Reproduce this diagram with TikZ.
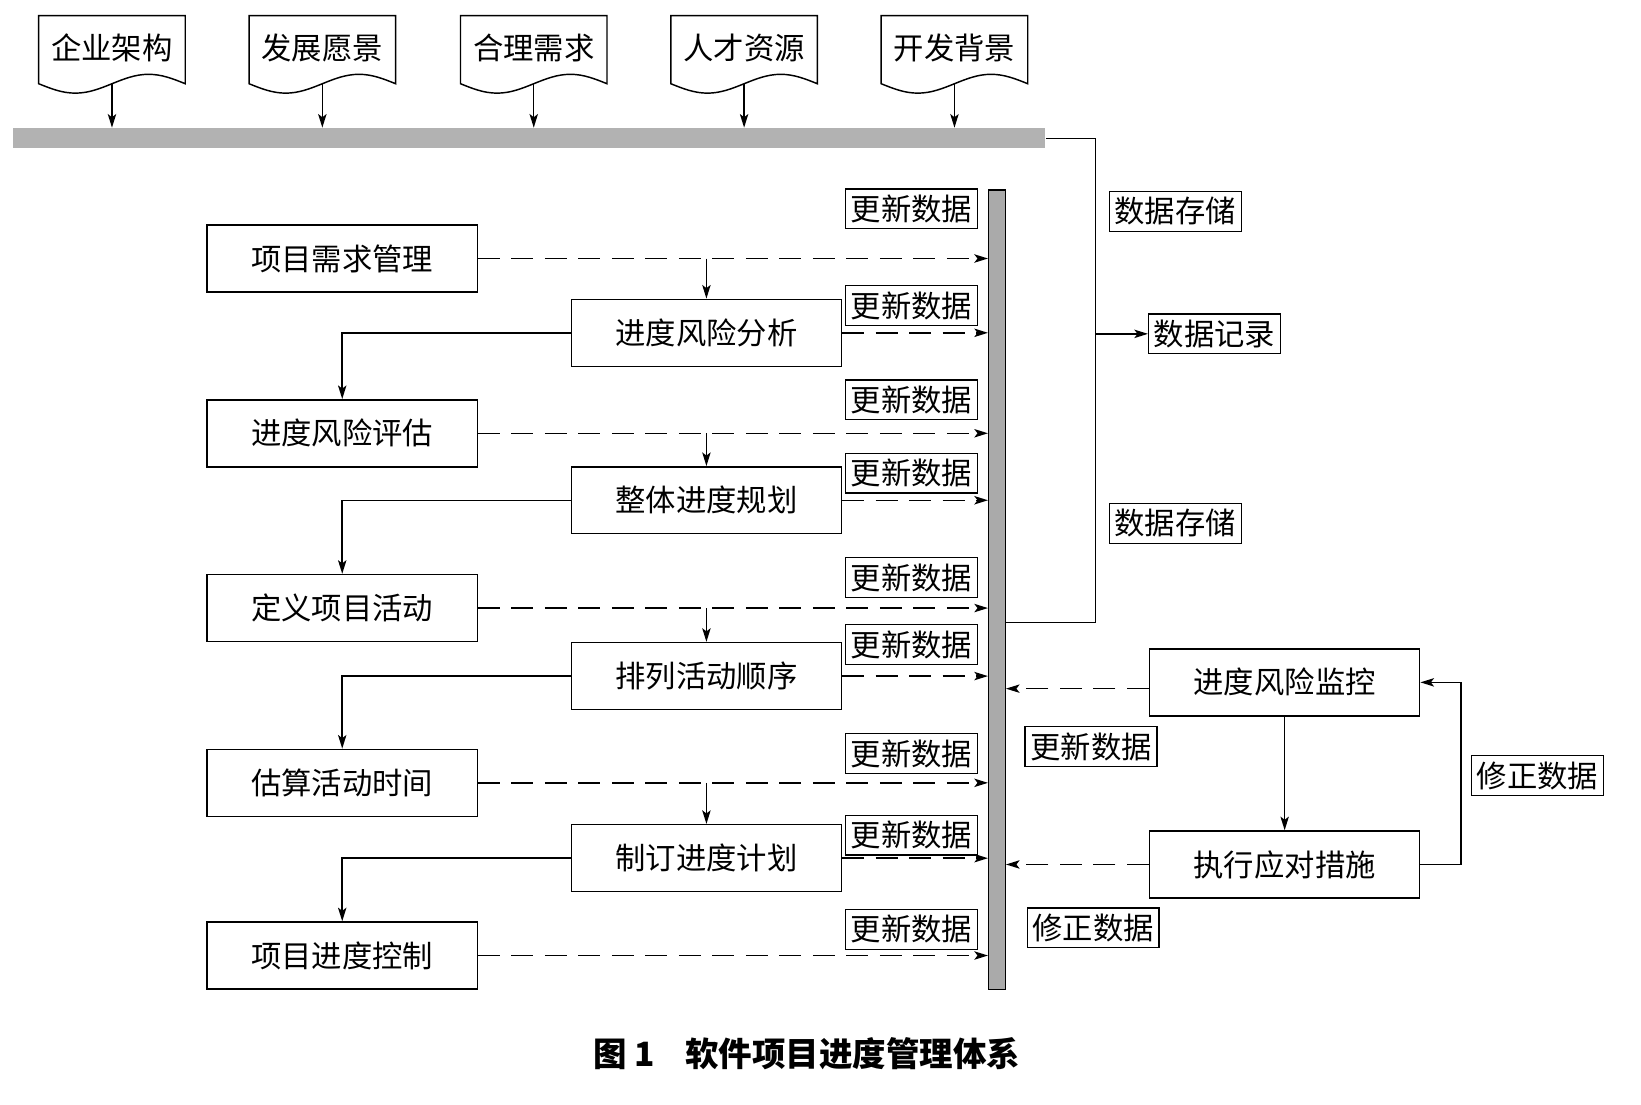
\documentclass[tikz,border=0pt]{standalone}
\usepackage{fontspec}
\newfontfamily\cjk{Noto Sans CJK SC}
\usetikzlibrary{arrows.meta}
\definecolor{barg}{RGB}{178,178,178}
\definecolor{vbarg}{RGB}{170,170,170}
\begin{document}
\begin{tikzpicture}[x=0.5pt,y=-0.5pt,
  line width=0.7pt,
  txt/.style={font=\cjk\fontsize{14.5pt}{16pt}\selectfont},
  box/.style={txt, draw, minimum width=129pt, minimum height=32pt, inner sep=0pt},
  lbl/.style={txt, draw, line width=0.6pt, minimum width=63pt, minimum height=19pt, inner sep=0pt},
  arr/.style={-{Stealth[length=6.5pt,width=4pt,inset=1.5pt]}},
  dsh/.style={arr, dash pattern=on 10.5pt off 5.5pt},
]
\useasboundingbox (0,0) rectangle (1568,1055);

% top document shapes
\foreach \cx/\t/\n in {107/企业架构/d1, 308/发展愿景/d2, 510/合理需求/d3, 711/人才资源/d4, 912/开发背景/d5}{
  \draw (\cx-70,80) -- (\cx-70,15) -- (\cx+70,15) -- (\cx+70,80)
        sin (\cx+35,71) cos (\cx,80) sin (\cx-35,89) cos (\cx-70,80) -- cycle;
  \node[txt] (\n) at (\cx,46) {\t};
  \coordinate (\n b) at (\cx,80);
}
\node[fill=barg, minimum width=493pt, minimum height=9.5pt, inner sep=0pt, anchor=north west] (topbar) at (12,122) {};
\foreach \n in {d1,d2,d3,d4,d5}{
  \draw[arr] (\n b) -- (\n b |- topbar.north);
}

% vertical bar
\node[draw, fill=vbarg, line width=0.6pt, minimum width=8pt, minimum height=382pt, inner sep=0pt, anchor=north west] (vbar) at (944,181) {};

% left column
\node[box] (a1) at (327,247) {项目需求管理};
\node[box] (a2) at (327,414) {进度风险评估};
\node[box] (a3) at (327,581) {定义项目活动};
\node[box] (a4) at (327,748) {估算活动时间};
\node[box] (a5) at (327,913) {项目进度控制};
% middle column
\node[box] (b1) at (675,318) {进度风险分析};
\node[box] (b2) at (675,478) {整体进度规划};
\node[box] (b3) at (675,646) {排列活动顺序};
\node[box] (b4) at (675,820) {制订进度计划};

\foreach \n in {a1,a2,a3,a4,a5,b1,b2,b3,b4}{
  \draw[dsh] (\n.east) -- (\n.east -| vbar.west);
}
\foreach \a/\b in {a1/b1,a2/b2,a3/b3,a4/b4}{
  \draw[arr] (\b.north |- \a.east) -- (\b.north);
}
\foreach \b/\a in {b1/a2,b2/a3,b3/a4,b4/a5}{
  \draw[arr] (\b.west) -| (\a.north);
}

% update labels
\foreach \y [count=\i] in {199.5,292,382,452,552,616,720,798,888}{
  \node[lbl] (u\i) at (871,\y) {更新数据};
}

% right data lines
\coordinate (rc) at (1047,595);
\draw (topbar.east) -| (rc) -- (rc -| vbar.east);
\node[lbl] (s1) at (1123,202) {数据存储};
\node[lbl] (rec) at (1160.5,319) {数据记录};
\node[lbl] (s2) at (1123,500) {数据存储};
\draw[arr] (rec.west -| rc) -- (rec.west);

% monitoring loop
\node[box] (m1) at (1227.5,652) {进度风险监控};
\node[box] (m2) at (1227.5,826) {执行应对措施};
\draw[dsh] ([yshift=-3pt]m1.west) -- ([yshift=-3pt]m1.west -| vbar.east);
\draw[dsh] (m2.west) -- (m2.west -| vbar.east);
\draw[arr] (m1.south) -- (m2.north);
\coordinate (lp) at (1396,826);
\draw[arr] (m2.east) -- (lp) |- (m1.east);
\node[lbl] (f1) at (1469,741) {修正数据};
\node[lbl] (u10) at (1042.5,713.5) {更新数据};
\node[lbl] (f2) at (1044.5,886.5) {修正数据};

% caption
\node[font=\cjk\bfseries\fontsize{16pt}{19pt}\selectfont] (cap) at (771,1007) {图 1\hspace{0.9em}软件项目进度管理体系};
\end{tikzpicture}
\end{document}
